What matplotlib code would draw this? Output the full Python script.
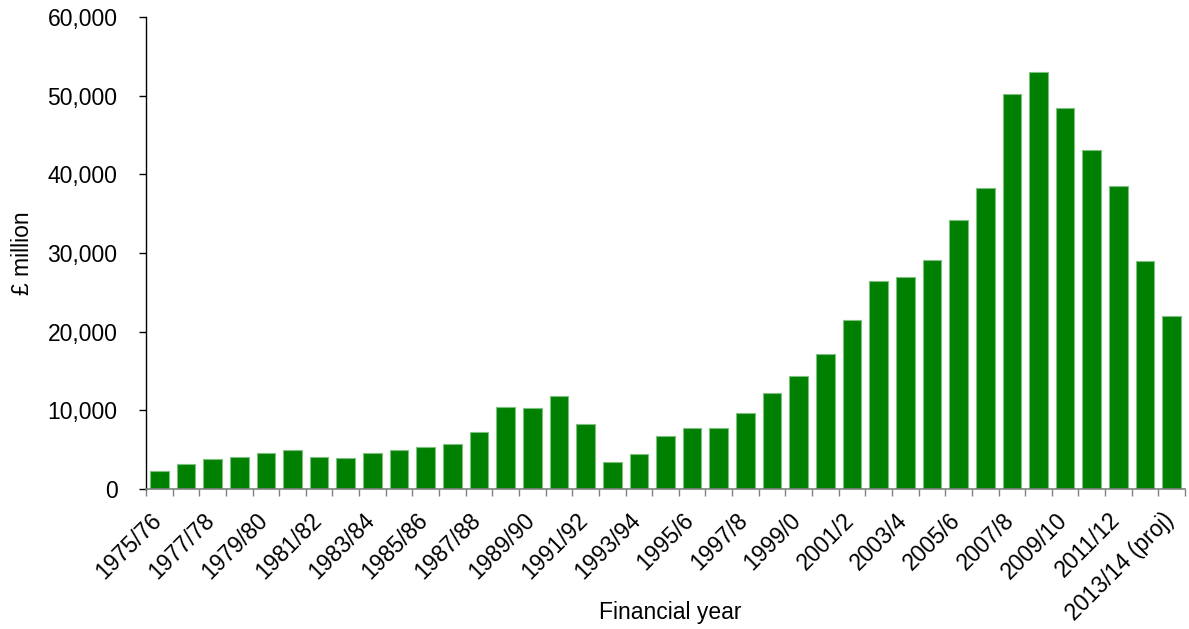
import matplotlib
matplotlib.use("Agg")
import matplotlib.pyplot as plt
import numpy as np

plt.rcParams['font.family'] = ['Liberation Sans', 'DejaVu Sans']

years = ["1975/76", "1976/77", "1977/78", "1978/79", "1979/80", "1980/81", "1981/82",
         "1982/83", "1983/84", "1984/85", "1985/86", "1986/87", "1987/88", "1988/89",
         "1989/90", "1990/91", "1991/92", "1992/93", "1993/94", "1994/5", "1995/6",
         "1996/7", "1997/8", "1998/9", "1999/0", "2000/1", "2001/2", "2002/3", "2003/4",
         "2004/5", "2005/6", "2006/7", "2007/8", "2008/9", "2009/10", "2010/11",
         "2011/12", "2012/13", "2013/14 (proj)"]
values = [2300, 3200, 3800, 4100, 4600, 5000, 4100, 4000, 4600, 5000, 5300, 5700,
          7300, 10400, 10300, 11800, 8300, 3400, 4500, 6800, 7800, 7700, 9600, 12200,
          14400, 17100, 21500, 26500, 27000, 29100, 34200, 38200, 50200, 53000, 48400,
          43100, 38500, 29000, 22000]
yticks = [0, 10000, 20000, 30000, 40000, 50000, 60000]

fig = plt.figure(figsize=(11.89, 6.29), dpi=100)
ax = fig.add_axes([146/1189, 1 - 489/629, (1185 - 146)/1189, (489 - 17)/629])

x = np.arange(len(years))
ax.bar(x, values, width=0.7, color='#008000', edgecolor='#7fbf7f', linewidth=0.8, zorder=2)

ax.set_xlim(-0.5, len(years) - 0.5)
ax.set_ylim(0, 60000)
ax.set_yticks(yticks)
ax.set_yticklabels([f"{v:,}" for v in yticks], fontsize=16.5)

# labels every other category, placed slightly right of centre
lab_idx = x[::2]
ax.set_xticks(lab_idx + 0.25)
ax.set_xticklabels([years[i] for i in lab_idx], rotation=45, ha='right', fontsize=16.5)
ax.tick_params(axis='x', which='major', length=0, pad=14)
ax.set_xticks(np.arange(len(years) + 1) - 0.5, minor=True)
ax.tick_params(axis='x', which='minor', length=5, width=1, color='#808080', direction='out')
ax.tick_params(axis='y', length=5, width=1, direction='out', pad=15.5)

for s in ['top', 'right']:
    ax.spines[s].set_visible(False)
ax.spines['left'].set_color('black')
ax.spines['left'].set_linewidth(1)
ax.spines['bottom'].set_color('#808080')
ax.spines['bottom'].set_linewidth(1.2)

ax.set_ylabel("£ million", fontsize=16.5)
ax.yaxis.set_label_coords(-0.108, 0.5)
fig.text(670/1189, 1 - 613/629, "Financial year", fontsize=16.5, ha='center', va='center')

fig.savefig("out.png", dpi=100)
